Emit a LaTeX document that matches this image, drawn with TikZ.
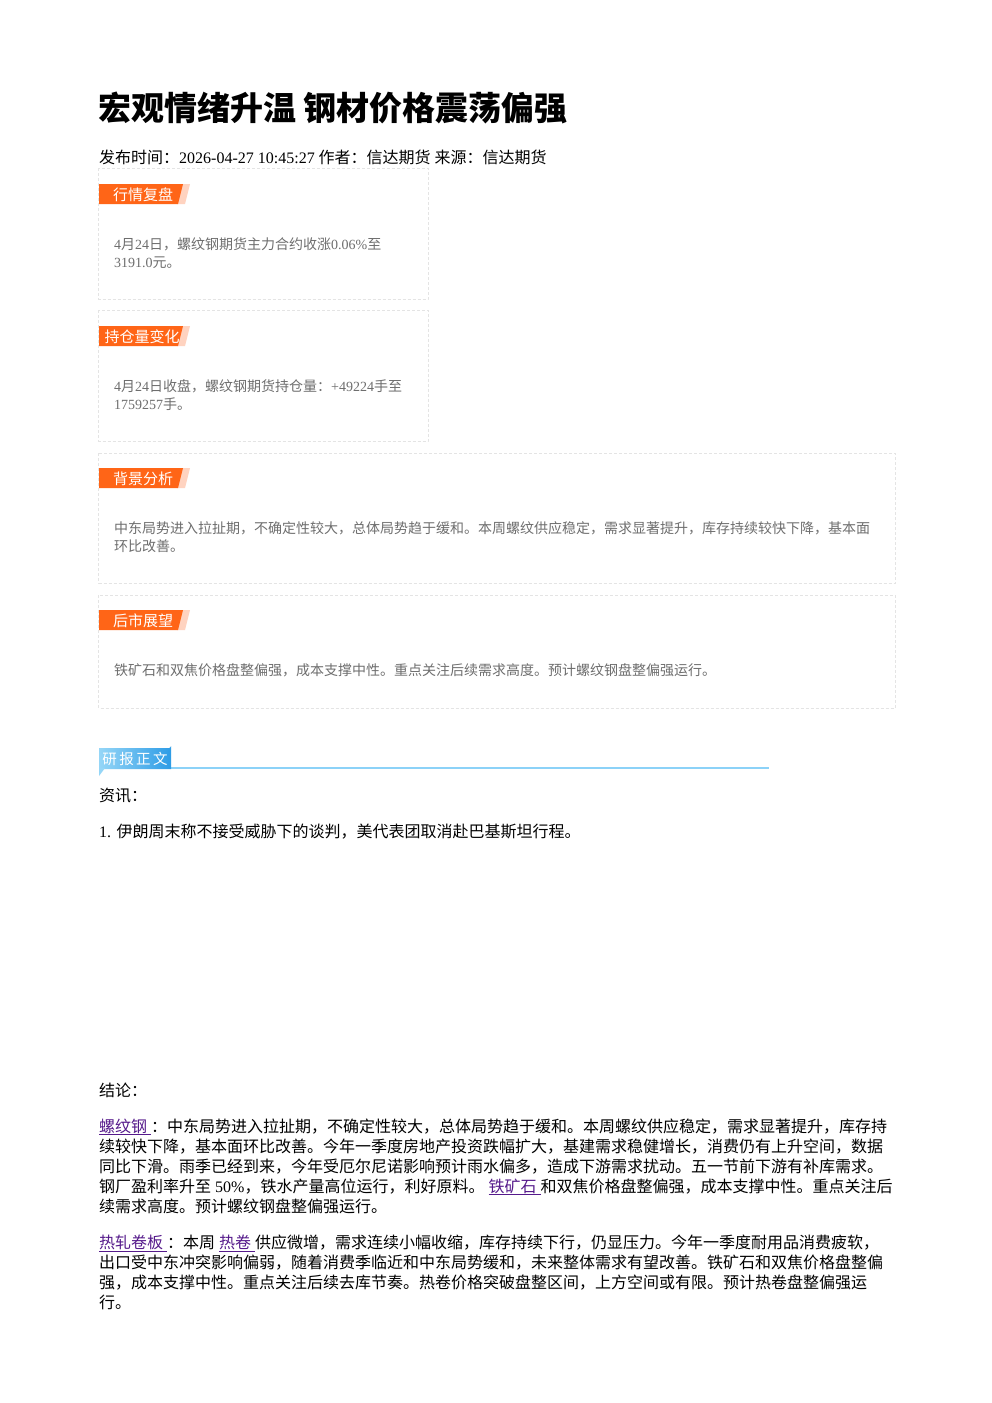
\documentclass[tikz,border=0pt]{standalone}
\usepackage{fontspec}
\setmainfont{Liberation Serif}
\newfontfamily\cjk{Noto Sans CJK SC}
\definecolor{orangec}{HTML}{FF6517}
\definecolor{pinkc}{HTML}{FFD3C0}
\definecolor{bordc}{HTML}{E4E4E4}
\definecolor{graytxt}{HTML}{6E6E6E}
\definecolor{bluel}{HTML}{95D6F7}
\definecolor{blued}{HTML}{2E9CE6}
\definecolor{blueline}{HTML}{8CD2F8}
\definecolor{linkc}{HTML}{551A8B}
\newcommand\lat[1]{{\rmfamily #1}}
\newcommand\lnk[1]{\textcolor{linkc}{\underline{#1\lat{ }}}}
\tikzset{
  dbox/.style={draw=bordc, dash pattern=on 3pt off 2pt, line width=0.8pt},
  tagtxt/.style={inner sep=0pt, anchor=base, text=white, font=\cjk\fontsize{15}{15}\selectfont},
  boxtxt/.style={inner sep=0pt, anchor=base west, text=graytxt, font=\cjk\fontsize{14}{18}\selectfont},
  body/.style={inner sep=0pt, anchor=base west, text=black, font=\cjk\fontsize{16}{20}\selectfont},
  ttl/.style={inner sep=0pt, anchor=base west, text=black, font=\cjk\bfseries\fontsize{33}{33}\selectfont}
}
\newcommand\badge[1]{%
  \fill[pinkc] (182,#1) -- (190,#1) -- (185,#1+20) -- (177,#1+20) -- cycle;
  \fill[orangec] (99,#1) -- (183,#1) -- (178,#1+20) -- (99,#1+20) -- cycle;
}
\begin{document}
\begin{tikzpicture}[x=1pt,y=-1pt]
\useasboundingbox (0,0) rectangle (992,1403);
\fill[white] (0,0) rectangle (992,1403);

% title and meta
\node[ttl] (title) at (98,120) {宏观情绪升温 钢材价格震荡偏强};
\node[body] (meta) at (99,163) {发布时间：\lat{2026-04-27 10:45:27 }作者：信达期货\lat{ }来源：信达期货};

% boxes
\draw[dbox] (98.5,168) rectangle (428,299);
\draw[dbox] (98.5,310) rectangle (428,441);
\draw[dbox] (98.5,453) rectangle (895,583);
\draw[dbox] (98.5,595) rectangle (895,708);

% badges
\badge{184}
\node[tagtxt] (tag1) at (143,200) {行情复盘};
\badge{326}
\node[tagtxt] (tag2) at (142,342) {持仓量变化};
\badge{468}
\node[tagtxt] (tag3) at (143,484) {背景分析};
\badge{610}
\node[tagtxt] (tag4) at (143,626) {后市展望};

% box texts
\node[boxtxt] (b1a) at (114,249) {\lat{4}月\lat{24}日，螺纹钢期货主力合约收涨\lat{0.06\%}至};
\node[boxtxt] (b1b) at (114,267) {\lat{3191.0}元。};
\node[boxtxt] (b2a) at (114,391) {\lat{4}月\lat{24}日收盘，螺纹钢期货持仓量：\lat{+49224}手至};
\node[boxtxt] (b2b) at (114,409) {\lat{1759257}手。};
\node[boxtxt] (b3a) at (114,533) {中东局势进入拉扯期，不确定性较大，总体局势趋于缓和。本周螺纹供应稳定，需求显著提升，库存持续较快下降，基本面};
\node[boxtxt] (b3b) at (114,551) {环比改善。};
\node[boxtxt] (b4a) at (114,675) {铁矿石和双焦价格盘整偏强，成本支撑中性。重点关注后续需求高度。预计螺纹钢盘整偏强运行。};

% section header
\draw[blueline, line width=1.3pt] (171,768) -- (769,768);
\shade[left color=bluel, right color=blued] (99,748) -- (169,748) arc[start angle=90, end angle=0, radius=2] -- (171,769) -- (99,769) -- cycle;
\fill[bluel] (99,768) -- (105,768) -- (99,776) -- cycle;
\node[tagtxt, font=\cjk\fontsize{14.5}{15}\selectfont] (sec) at (135,764.5) {研\,报\,正\,文};

% body
\node[body] (zx) at (99,801) {资讯：};
\node[body] (item1) at (99,837) {\lat{1. }伊朗周末称不接受威胁下的谈判，美代表团取消赴巴基斯坦行程。};
\node[body] (jl) at (99,1096) {结论：};

\node[body] (p1a) at (99,1132) {\lnk{螺纹钢}：中东局势进入拉扯期，不确定性较大，总体局势趋于缓和。本周螺纹供应稳定，需求显著提升，库存持};
\node[body] (p1b) at (99,1152) {续较快下降，基本面环比改善。今年一季度房地产投资跌幅扩大，基建需求稳健增长，消费仍有上升空间，数据};
\node[body] (p1c) at (99,1172) {同比下滑。雨季已经到来，今年受厄尔尼诺影响预计雨水偏多，造成下游需求扰动。五一节前下游有补库需求。};
\node[body] (p1d) at (99,1192) {钢厂盈利率升至\lat{ 50\%}，铁水产量高位运行，利好原料。\lat{ }\lnk{铁矿石}和双焦价格盘整偏强，成本支撑中性。重点关注后};
\node[body] (p1e) at (99,1212) {续需求高度。预计螺纹钢盘整偏强运行。};

\node[body] (p2a) at (99,1248) {\lnk{热轧卷板}：本周\lat{ }\lnk{热卷}供应微增，需求连续小幅收缩，库存持续下行，仍显压力。今年一季度耐用品消费疲软，};
\node[body] (p2b) at (99,1268) {出口受中东冲突影响偏弱，随着消费季临近和中东局势缓和，未来整体需求有望改善。铁矿石和双焦价格盘整偏};
\node[body] (p2c) at (99,1288) {强，成本支撑中性。重点关注后续去库节奏。热卷价格突破盘整区间，上方空间或有限。预计热卷盘整偏强运};
\node[body] (p2d) at (99,1308) {行。};
\end{tikzpicture}
\end{document}
